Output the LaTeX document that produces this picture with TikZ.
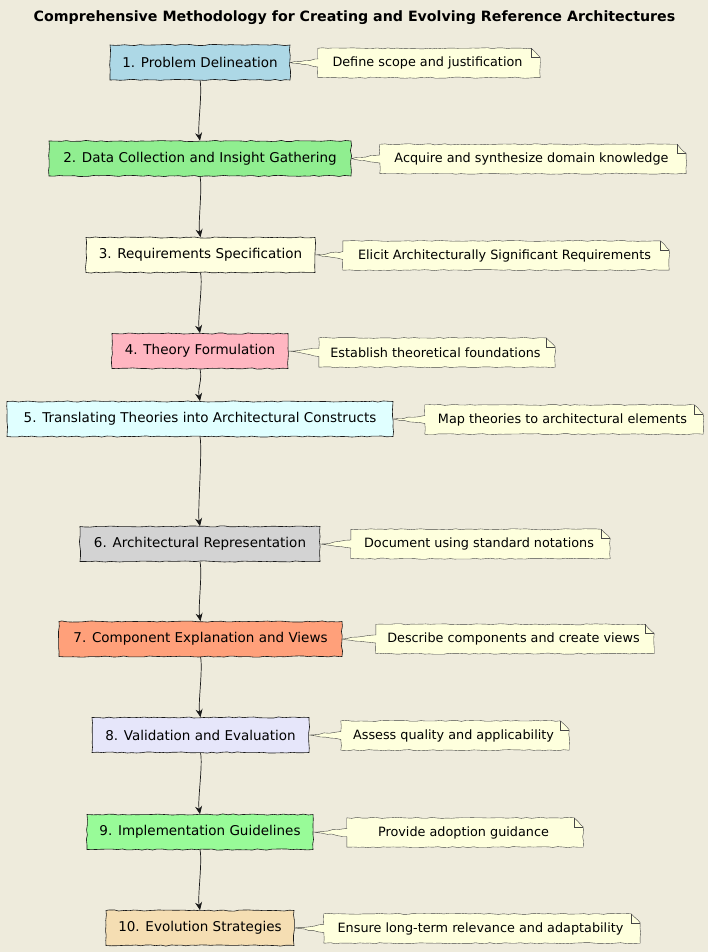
\documentclass[tikz,border=0pt]{standalone}
\usepackage{fontspec}
\setmainfont{DejaVu Sans}
\usetikzlibrary{decorations.pathmorphing,arrows.meta,calc}
\definecolor{bg}{HTML}{EEEBDC}
\definecolor{notefill}{HTML}{FEFFDD}
\definecolor{c1}{HTML}{ADD8E6}
\definecolor{c2}{HTML}{90EE90}
\definecolor{c3}{HTML}{FFFFE0}
\definecolor{c4}{HTML}{FFB6C1}
\definecolor{c5}{HTML}{E0FFFF}
\definecolor{c6}{HTML}{D3D3D3}
\definecolor{c7}{HTML}{FFA07A}
\definecolor{c8}{HTML}{E6E6FA}
\definecolor{c9}{HTML}{98FB98}
\definecolor{c10}{HTML}{F5DEB3}
\definecolor{edge}{HTML}{181818}
\tikzset{
  sketchy/.style={decorate,decoration={random steps,segment length=5pt,amplitude=0.6pt}},
  stepbox/.style={draw=edge,line width=0.6pt,sketchy,minimum height=35pt,inner sep=0pt,
    font=\fontsize{13.5}{16}\selectfont,text=black},
  notebox/.style={inner sep=0pt,minimum height=29pt,font=\fontsize{12.8}{15}\selectfont,text=black},
  flow/.style={draw=edge,line width=0.7pt,-{Stealth[length=8pt,width=7pt,inset=2.5pt]}},
  noteline/.style={draw=edge!80,line width=0.4pt,fill=notefill,line join=round},
}
\begin{document}
\begin{tikzpicture}[x=1pt,y=-1pt]
\pgfmathsetseed{7}
\fill[bg] (0,0) rectangle (708,952);
\useasboundingbox (0,0) rectangle (708,952);
\node[font=\bfseries\fontsize{14.2}{16}\selectfont] (title) at (354.5,18) {Comprehensive Methodology for Creating and Evolving Reference Architectures};
% boxes
\node[stepbox,fill=c1,minimum width=180pt] (b1) at (200,62.5) {1. Problem Delineation};
\node[stepbox,fill=c2,minimum width=302pt] (b2) at (200,158.5) {2. Data Collection and Insight Gathering};
\node[stepbox,fill=c3,minimum width=229pt] (b3) at (200.5,255) {3. Requirements Specification};
\node[stepbox,fill=c4,minimum width=176pt] (b4) at (200,351) {4. Theory Formulation};
\node[stepbox,fill=c5,minimum width=386pt] (b5) at (200,419) {5. Translating Theories into Architectural Constructs};
\node[stepbox,fill=c6,minimum width=240pt] (b6) at (200,544) {6. Architectural Representation};
\node[stepbox,fill=c7,minimum width=283pt] (b7) at (200.5,639) {7. Component Explanation and Views};
\node[stepbox,fill=c8,minimum width=217pt] (b8) at (200.5,735) {8. Validation and Evaluation};
\node[stepbox,fill=c9,minimum width=226pt] (b9) at (200,832) {9. Implementation Guidelines};
\node[stepbox,fill=c10,minimum width=188pt] (b10) at (200,928) {10. Evolution Strategies};
% notes (text nodes; outlines drawn below)
\node[notebox,minimum width=222pt] (n1) at (429,63) {};
\node[notebox,minimum width=306pt] (n2) at (533,159) {};
\node[notebox,minimum width=326pt] (n3) at (506,255.5) {};
\node[notebox,minimum width=236pt] (n4) at (437,352.5) {};
\node[notebox,minimum width=278pt] (n5) at (564,419.5) {};
\node[notebox,minimum width=259pt] (n6) at (480.5,544) {};
\node[notebox,minimum width=278pt] (n7) at (515,639) {};
\node[notebox,minimum width=228pt] (n8) at (455,735.5) {};
\node[notebox,minimum width=236pt] (n9) at (465,832.5) {};
\node[notebox,minimum width=316pt] (n10) at (482,928.5) {};
\foreach \i in {1,...,10}{
  \path[noteline,sketchy] (n\i.north west) -- ($(n\i.north east)+(-9,0)$) -- ($(n\i.north east)+(0,9)$) -- (n\i.south east) -- (n\i.south west) -- ($(n\i.west)+(0,4)$) -- (b\i.east) -- ($(n\i.west)+(0,-4)$) -- cycle;
  \draw[edge!80,line width=0.4pt] ($(n\i.north east)+(-9,0)$) -- ($(n\i.north east)+(-9,9)$) -- ($(n\i.north east)+(0,9)$);
}
\node[notebox] at (n1) {\hspace{-3pt}Define scope and justification};
\node[notebox] at (n2) {\hspace{-3pt}Acquire and synthesize domain knowledge};
\node[notebox] at (n3) {\hspace{-3pt}Elicit Architecturally Significant Requirements};
\node[notebox] at (n4) {\hspace{-3pt}Establish theoretical foundations};
\node[notebox] at (n5) {\hspace{-3pt}Map theories to architectural elements};
\node[notebox] at (n6) {\hspace{-3pt}Document using standard notations};
\node[notebox] at (n7) {\hspace{-3pt}Describe components and create views};
\node[notebox] at (n8) {\hspace{-3pt}Assess quality and applicability};
\node[notebox] at (n9) {\hspace{-3pt}Provide adoption guidance};
\node[notebox] at (n10) {\hspace{-3pt}Ensure long-term relevance and adaptability};
% flow arrows
\foreach \a/\b in {1/2,2/3,3/4,4/5,5/6,6/7,7/8,8/9,9/10}{
  \draw[flow] (b\a.south) .. controls +(2.5,12) and +(-2.5,-14) .. (b\b.north);
}
\end{tikzpicture}
\end{document}
